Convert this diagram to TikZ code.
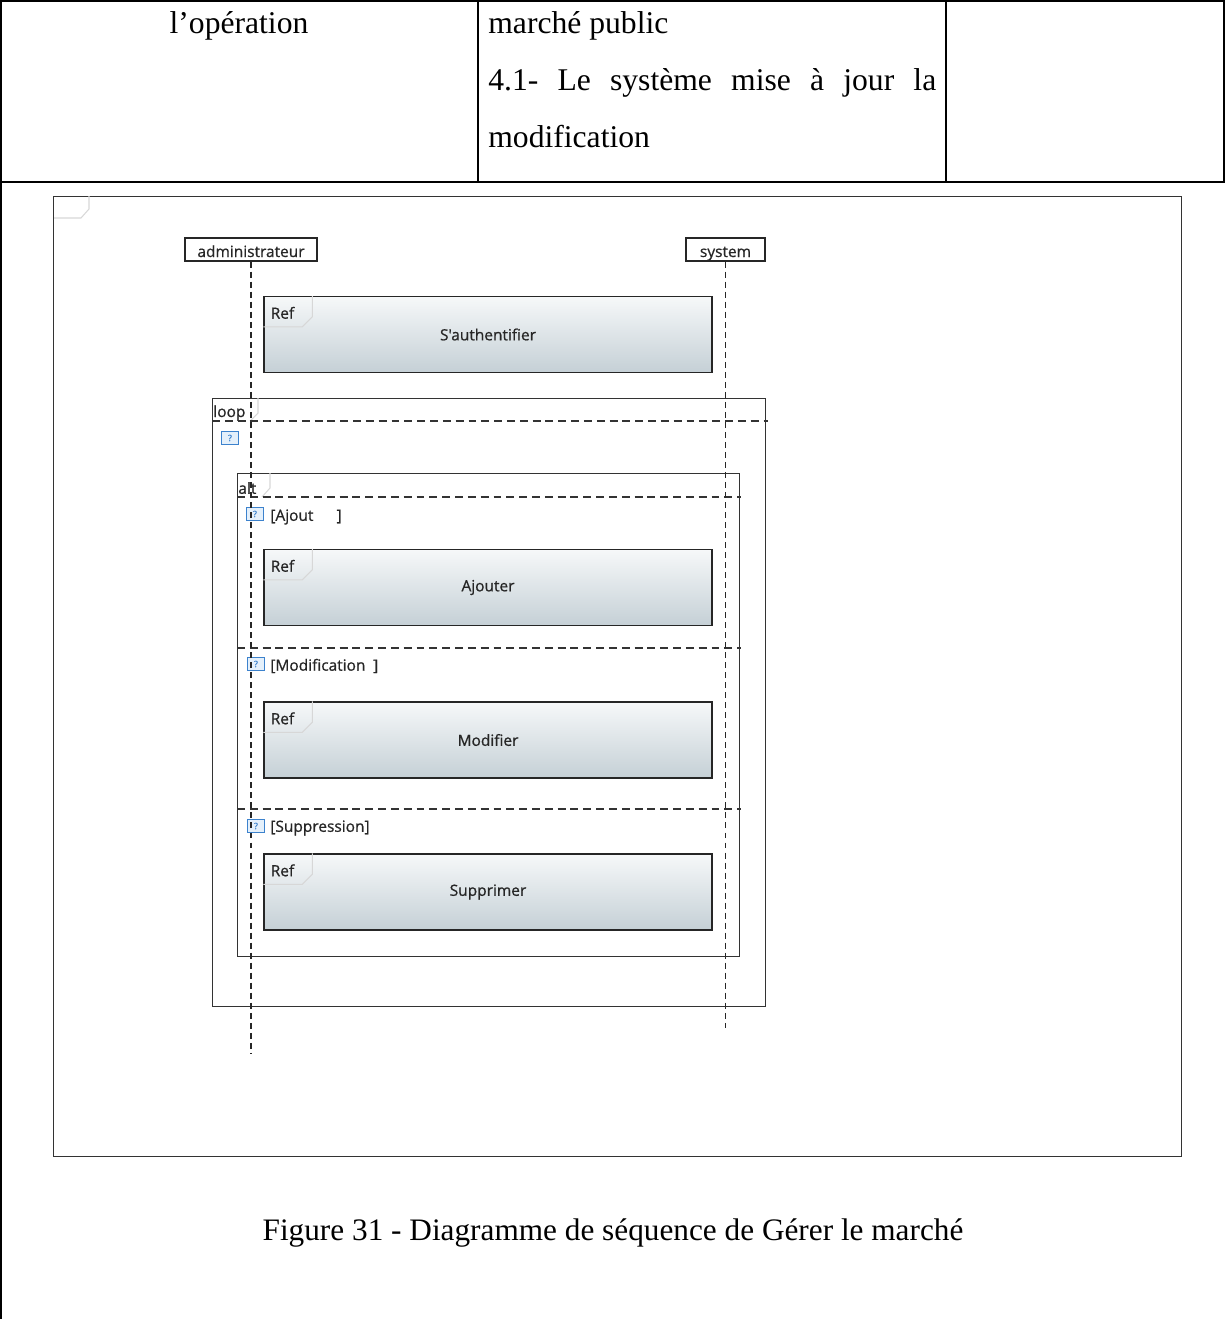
\documentclass[tikz,border=0pt]{standalone}
\usepackage{fontspec}
\setmainfont{Liberation Serif}
\newfontfamily\umlfont[FakeBold=0.8]{Open Sans}
\usetikzlibrary{positioning}
\definecolor{tabgray}{RGB}{215,215,215}
\definecolor{reftop}{RGB}{246,248,249}
\definecolor{refbot}{RGB}{197,208,214}
\definecolor{guardblue}{RGB}{60,130,205}
\definecolor{guardfill}{RGB}{228,240,251}

\begin{document}
\begin{tikzpicture}[x=0.02cm, y=-0.02cm,
  tabletext/.style={font=\fontsize{18}{21}\selectfont, inner sep=0pt},
  rule/.style={line width=0.8pt},
  umltext/.style={font=\umlfont\fontsize{8.8}{10}\selectfont, inner sep=0pt, text=black!85},
  frame/.style={draw=black!80, line width=0.75pt, anchor=north west, inner sep=0pt},
  tab/.style={draw=tabgray, line width=0.6pt},
  head/.style={draw=black!85, line width=0.75pt, minimum height=0.46cm, inner sep=0pt,
               text height=0.3cm, text depth=0pt,
               font=\umlfont\fontsize{8.8}{10}\selectfont, text=black!85},
  refbox/.style={draw=black!85, line width=0.75pt, top color=reftop, bottom color=refbot,
                 minimum width=8.96cm, minimum height=1.52cm, inner sep=0pt,
                 font=\umlfont\fontsize{8.8}{10}\selectfont, text=black!85},
  guard/.style={draw=guardblue, fill=guardfill, line width=0.5pt, minimum width=0.34cm,
                minimum height=0.27cm, inner sep=0pt, font=\umlfont\fontsize{5}{5}\selectfont,
                text=guardblue},
  lifeline/.style={draw=black!85, line width=0.7pt, dash pattern=on 3.4pt off 2.3pt},
  divider/.style={draw=black!80, line width=0.7pt, dash pattern=on 4.5pt off 2.8pt}]
  \useasboundingbox (0,0) rectangle (1225,1319);

  % Table rows above the figure
  \draw[rule] (1,1319) -- (1,1) -- (1224,1) -- (1224,182);
  \draw[rule] (0,182) -- (1225,182);
  \draw[rule] (478,1) -- (478,182);
  \draw[rule] (946,1) -- (946,182);
  \node[tabletext, anchor=base] (oper) at (239,33) {l’opération};
  \node[tabletext, anchor=base west] (line1) at (488,33) {marché public};
  \node[tabletext, anchor=base west] (line2) at (488,90)
    {\makebox[8.96cm][s]{4.1- Le système mise à jour la}};
  \node[tabletext, anchor=base west] (line3) at (488,147) {modification};

  % Diagram frame
  \node[frame, minimum width=22.56cm, minimum height=19.2cm] (diag) at (53,196) {};
  \draw[tab] (89,196) -- (89,209) -- (81,218) -- (54,218);

  % Lifeline heads
  \node[head, minimum width=2.64cm] (admin) at (251,249.5) {administrateur};
  \node[head, minimum width=1.58cm] (sys) at (725.5,249.5) {system};
  \coordinate (adminEnd) at (251,1053);
  \coordinate (sysEnd) at (725.5,1028);

  % Ref S'authentifier
  \node[refbox] (auth) at (488,334.5) {S'authentifier};
  \draw[tab] ([yshift=-0.62cm]auth.north west) -- ++(39,0) -- ++(10,-10) -- ++(0,-21);
  \node[umltext, anchor=west] (authRef) at ([xshift=0.14cm, yshift=-0.34cm]auth.north west) {Ref};

  % Loop fragment
  \node[frame, minimum width=11.06cm, minimum height=12.16cm] (loop) at (212,398) {};
  \draw[tab] (258,398) -- (258,413) -- (250,421);
  \node[umltext, anchor=west] (loopLbl) at (213,413) {loop};
  \draw[divider] (212,421) -- (768,421);
  \node[guard] (loopGuard) at (230,438) {?};

  % Alt fragment
  \node[frame, minimum width=10.04cm, minimum height=9.66cm] (alt) at (237,473) {};
  \draw[tab] (270,473) -- (270,488) -- (262,497);
  \node[umltext, anchor=west] (altLbl) at (238,488) {alt};
  \draw[divider] (237,497) -- (741,497);
  \draw[divider] (237,648) -- (741,648);
  \draw[divider] (237,809) -- (741,809);

  % Operand 1
  \node[guard] (g1) at (255,514) {?};
  \node[umltext, anchor=west] (g1Lbl) at (270,517) {[Ajout\hspace{1.5em}]};
  \node[refbox] (add) at (488,587.5) {Ajouter};
  \draw[tab] ([yshift=-0.62cm]add.north west) -- ++(39,0) -- ++(10,-10) -- ++(0,-21);
  \node[umltext, anchor=west] (addRef) at ([xshift=0.14cm, yshift=-0.34cm]add.north west) {Ref};

  % Operand 2
  \node[guard] (g2) at (256,664) {?};
  \node[umltext, anchor=west] (g2Lbl) at (270,666) {[Modification\hspace{0.5em}]};
  \node[refbox] (mod) at (488,740) {Modifier};
  \draw[tab] ([yshift=-0.62cm]mod.north west) -- ++(39,0) -- ++(10,-10) -- ++(0,-21);
  \node[umltext, anchor=west] (modRef) at ([xshift=0.14cm, yshift=-0.34cm]mod.north west) {Ref};

  % Operand 3
  \node[guard] (g3) at (256,826) {?};
  \node[umltext, anchor=west] (g3Lbl) at (270,828) {[Suppression]};
  \node[refbox] (del) at (488,892) {Supprimer};
  \draw[tab] ([yshift=-0.62cm]del.north west) -- ++(39,0) -- ++(10,-10) -- ++(0,-21);
  \node[umltext, anchor=west] (delRef) at ([xshift=0.14cm, yshift=-0.34cm]del.north west) {Ref};

  % Lifelines
  \draw[lifeline] (admin.south) -- (adminEnd);
  \draw[lifeline] (sys.south) -- (sysEnd);

  % Caption
  \node[tabletext, font=\fontsize{17.8}{21}\selectfont, anchor=base] (caption) at (613,1240)
    {Figure 31 - Diagramme de séquence de Gérer le marché};
\end{tikzpicture}
\end{document}
